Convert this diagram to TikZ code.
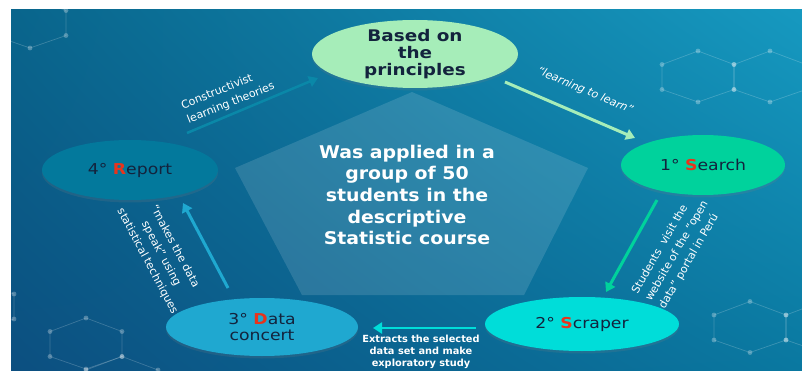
\documentclass[tikz,border=0pt]{standalone}
\usepackage{fontspec}
\setmainfont{DejaVu Sans}
\newfontfamily\widefont[FakeStretch=1.15]{DejaVu Sans}
\newfontfamily\midfont[FakeStretch=1.08]{DejaVu Sans}
\usetikzlibrary{shapes.geometric,arrows.meta,calc,shadings,shadows}
\definecolor{bgTL}{HTML}{09658C}
\definecolor{bgTR}{HTML}{1699C0}
\definecolor{bgBL}{HTML}{0C4F80}
\definecolor{bgBR}{HTML}{0A78A0}
\definecolor{cTop}{HTML}{A6EDB9}
\definecolor{cSearch}{HTML}{00D29C}
\definecolor{cScraper}{HTML}{00DDD9}
\definecolor{cData}{HTML}{1FA8D0}
\definecolor{cReport}{HTML}{03799C}
\definecolor{cRepArrow}{HTML}{0A88A8}
\definecolor{navy}{HTML}{13233D}
\definecolor{redS}{HTML}{E8341C}
\newcommand{\redL}[1]{\textcolor{redS}{\bfseries #1}}
\tikzset{
  ell/.style={ellipse, inner sep=0pt, draw=none, drop shadow={opacity=0.18, shadow xshift=0pt, shadow yshift=-2.5pt}},
  etxt/.style={text=navy, align=center, inner sep=0pt, font=\widefont\fontsize{15}{16.5}\selectfont},
  arr/.style={line width=3pt, -{Triangle[width=11pt,length=9pt]}},
  lbl/.style={text=white, inner sep=0pt, font=\fontsize{11}{15.5}\selectfont},
  hexl/.style={white, opacity=0.2, line width=0.7pt},
  hexd/.style={white, opacity=0.28},
}
\newcommand{\hexat}[2]{%
  \draw[hexl] (#1,#2-25.5) -- (#1+36,#2-12) -- (#1+36,#2+13) -- (#1,#2+25.5) -- (#1-36,#2+13) -- (#1-36,#2-12) -- cycle;
  \foreach \px/\py in {0/-25.5,36/-12,36/13,0/25.5,-36/13,-36/-12}{\fill[hexd] (#1+\px,#2+\py) circle (2.4pt);}
}
\begin{document}
\begin{tikzpicture}[x=1pt,y=-1pt]
\useasboundingbox (0,0) rectangle (802,371);
\fill[white] (0,0) rectangle (802,371);
\shade[upper left=bgTL, upper right=bgTR, lower left=bgBL, lower right=bgBR] (11,10) rectangle (802,371);
% hexagon decorations
\begin{scope}
\clip (11,10) rectangle (802,371);
\hexat{698}{76.5}
\hexat{770}{76.5}
\hexat{30}{22.5}
\hexat{86}{343.5}
\hexat{-22}{306}
\hexat{122}{382}
\hexat{750}{327}
\hexat{822}{327}
\end{scope}
% central pentagon
\fill[white, opacity=0.13] (412,92) -- (588,168) -- (524,295) -- (302,295) -- (235,168) -- cycle;
\node[text=white, align=center, inner sep=0pt, font=\midfont\bfseries\fontsize{17.5}{21.7}\selectfont] (center) at (407,195)
  {Was applied in a\\group of 50\\students in the\\descriptive\\Statistic course};
% ellipses
\node[ell, fill=cTop, minimum width=206pt, minimum height=68pt,
  label={[etxt, font=\widefont\bfseries\fontsize{16}{16.8}\selectfont]center:{Based on\\the\\principles}}] (top) at (415,54) {};
\node[ell, fill=cSearch, minimum width=164pt, minimum height=60pt,
  label={[etxt]center:{1° \redL{S}earch}}] (search) at (703,165) {};
\node[ell, fill=cScraper, minimum width=194pt, minimum height=54pt,
  label={[etxt]center:{2° \redL{S}craper}}] (scraper) at (582,324) {};
\node[ell, fill=cData, minimum width=192pt, minimum height=58pt,
  label={[etxt]center:{3° \redL{D}ata\\concert}}] (data) at (262,327) {};
\node[ell, fill=cReport, minimum width=176pt, minimum height=60pt,
  label={[etxt]center:{4° \redL{R}eport}}] (report) at (130,170) {};
% arrows
\draw[arr, draw=cTop] ($(top)+(90,28)$) -- ($(search)+(-68,-27)$);
\draw[arr, draw=cSearch] ($(search)+(-46,35)$) -- ($(scraper)+(24,-32)$);
\draw[arr, line width=2.5pt, draw=cScraper] ($(scraper)+(-106,4)$) -- ($(data)+(111,1)$);
\draw[arr, draw=cData] ($(data)+(-34,-39)$) -- ($(report)+(53,33)$);
\draw[arr, line width=2.5pt, draw=cRepArrow] ($(report)+(57,-37)$) -- ($(top)+(-97,24)$);
% labels
\node[lbl, rotate=22, align=left] (l1) at (228,96) {Constructivist\\learning theories};
\node[lbl, rotate=-23, font=\itshape\fontsize{11}{13}\selectfont] (l2) at (585,91) {“learning to learn”};
\node[lbl, rotate=60, align=left] (l3) at (677,251) {Students\ \ visit the\\website of the “open\\data” portal in Perú};
\node[lbl, align=center, font=\bfseries\fontsize{9.8}{12}\selectfont] (l4) at (421,352) {Extracts the selected\\data set and make\\exploratory study};
\node[lbl, rotate=-62, align=center] (l5) at (161,254) {“makes the data\\speak” using\\statistical techniques};
\end{tikzpicture}
\end{document}
